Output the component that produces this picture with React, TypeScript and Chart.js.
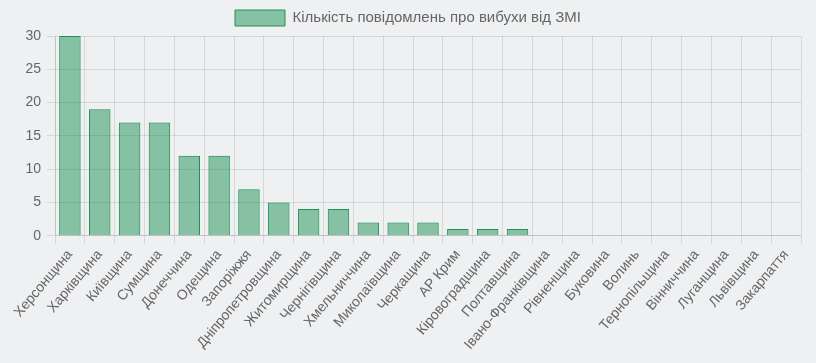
import React, { useEffect, useRef } from "react";
import { Chart, registerables } from "chart.js";

Chart.register(...registerables);

const categories = [
  "Херсонщина", "Харківщина", "Київщина", "Сумщина", "Донеччина", "Одещина",
  "Запоріжжя", "Дніпропетровщина", "Житомирщина", "Чернігівщина", "Хмельниччина",
  "Миколаївщина", "Черкащина", "АР Крим", "Кіровоградщина", "Полтавщина",
  "Івано-Франківщина", "Рівненщина", "Буковина", "Волинь", "Тернопільщина",
  "Вінниччина", "Луганщина", "Львівщина", "Закарпаття",
];
const values = [30, 19, 17, 17, 12, 12, 7, 5, 4, 4, 2, 2, 2, 1, 1, 1, 0, 0, 0, 0, 0, 0, 0, 0, 0];
const seriesLabel = "Кількість повідомлень про вибухи від ЗМІ";

const FONT = "Arial, 'Liberation Sans', sans-serif";

export default function App() {
  const ref = useRef<HTMLCanvasElement>(null);
  useEffect(() => {
    document.body.style.margin = "0";
    document.body.style.background = "#eff0f2";
    const chart = new Chart(ref.current!, {
      type: "bar",
      data: {
        labels: categories,
        datasets: [
          {
            label: seriesLabel,
            data: values,
            backgroundColor: "rgba(30,145,85,0.5)",
            borderColor: "rgba(30,145,85,1)",
            borderWidth: 1,
          },
        ],
      },
      options: {
        animation: false,
        responsive: false,
        maintainAspectRatio: false,
        layout: { padding: { left: 15, right: 15, bottom: 7 } },
        plugins: {
          legend: {
            labels: {
              boxWidth: 50,
              boxHeight: 16,
              color: "#666",
              font: { size: 15, family: FONT },
            },
          },
          tooltip: { enabled: false },
        },
        scales: {
          x: {
            ticks: {
              color: "#666",
              maxRotation: 50,
              minRotation: 50,
              autoSkip: false,
              font: { size: 14, family: FONT },
            },
          },
          y: {
            beginAtZero: true,
            max: 30,
            afterFit: (scale: any) => {
              scale.width = 40;
            },
            ticks: {
              stepSize: 5,
              padding: 6,
              color: "#666",
              font: { size: 14, family: FONT },
            },
          },
        },
      },
    });
    return () => chart.destroy();
  }, []);
  return <canvas ref={ref} width={816} height={363} style={{ display: "block" }} />;
}
